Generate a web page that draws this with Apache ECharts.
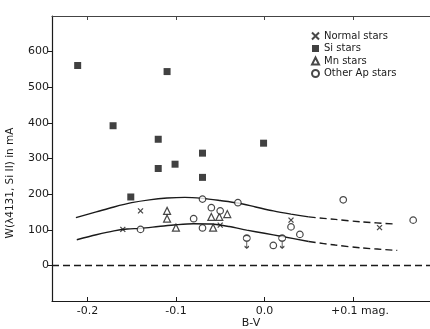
<!DOCTYPE html>
<html>
<head>
<meta charset="utf-8">
<script src="https://cdn.jsdelivr.net/npm/echarts@6/dist/echarts.min.js"></script>
<style>
  html, body { margin: 0; padding: 0; background: #fff; }
  #main { width: 430px; height: 329px; }
</style>
</head>
<body>
<div id="main"></div>
<script>
// tick positions and labels
const xTicks = [-0.2, -0.1, 0, 0.1];
const xTickLabels = ['-0.2', '-0.1', '0.0', '+0.1 mag.'];
const yTicks = [0, 100, 200, 300, 400, 500, 600];

// stars, [B-V, W in mA]
const normalStars = [[-0.140, 153], [-0.160, 101], [-0.050, 113], [0.030, 127], [0.130, 106]];
const siStars = [
  [-0.211, 561], [-0.110, 544], [-0.171, 392], [-0.120, 354], [-0.070, 315],
  [-0.001, 343], [-0.120, 272], [-0.101, 284], [-0.070, 247], [-0.151, 192]
];
const mnStars = [[-0.110, 153], [-0.110, 131], [-0.100, 106], [-0.060, 136], [-0.051, 136], [-0.042, 144], [-0.058, 106]];
const otherApStars = [
  [-0.140, 101], [-0.080, 131], [-0.070, 186], [-0.070, 105], [-0.030, 176], [-0.060, 162],
  [-0.050, 153], [0.010, 56], [0.030, 108], [0.040, 87], [0.089, 184], [0.168, 127]
];
// upper limits (circle with arrow)
const otherApLimits = [[-0.020, 75], [0.020, 75]];

// envelope curves
const upperCurve = [
  [-0.213, 134], [-0.19, 150], [-0.17, 164], [-0.15, 176], [-0.13, 184], [-0.11, 189], [-0.09, 191],
  [-0.07, 188], [-0.05, 182], [-0.03, 175], [-0.01, 164], [0.01, 153], [0.03, 144], [0.05, 136]
];
const upperCurveDashed = [[0.05, 136], [0.08, 129], [0.11, 122], [0.148, 116]];
const lowerCurve = [
  [-0.212, 72], [-0.19, 86], [-0.17, 97], [-0.155, 102], [-0.14, 104], [-0.12, 109], [-0.10, 114],
  [-0.08, 117], [-0.06, 116], [-0.04, 109], [-0.02, 99], [0, 90], [0.02, 81], [0.05, 67]
];
const lowerCurveDashed = [[0.05, 67], [0.08, 57], [0.11, 49], [0.15, 42]];

const ink = '#1a1a1a';
const font = 'DejaVu Sans';
const crossPath = 'path://M0,0L10,10M10,0L0,10';
const limitPath = 'path://M1,5A4,4,0,1,1,9,5A4,4,0,1,1,1,5ZM5,9L5,18M2.5,15.5L5,18L7.5,15.5';

const chart = echarts.init(document.getElementById('main'), null, { renderer: 'canvas' });

const curve = (data, dashed) => ({
  type: 'line',
  data: data,
  smooth: 0.3,
  symbol: 'none',
  silent: true,
  z: 1,
  lineStyle: { color: ink, width: 1.4, type: dashed ? [7, 4] : 'solid' }
});

const option = {
  backgroundColor: '#fff',
  animation: false,
  textStyle: { fontFamily: font },
  grid: { left: 52, right: 0, top: 16, bottom: 28 },
  legend: {
    orient: 'vertical',
    left: 311,
    top: 30,
    padding: 0,
    itemGap: 0.5,
    itemWidth: 7,
    itemHeight: 7,
    data: ['Normal stars', 'Si stars', 'Mn stars', 'Other Ap stars'],
    textStyle: { fontFamily: font, fontSize: 10, color: ink, lineHeight: 12 }
  },
  xAxis: [
    {
      type: 'value', position: 'bottom', min: -0.24, max: 0.187,
      splitLine: { show: false },
      axisLine: { onZero: false, lineStyle: { color: ink, width: 1.2 } },
      axisTick: { inside: true, length: 4, customValues: xTicks, lineStyle: { color: ink } },
      axisLabel: {
        customValues: xTicks, margin: 5, fontSize: 11, color: ink, fontFamily: font,
        formatter: (v) => {
          const i = xTicks.findIndex((t) => Math.abs(t - v) < 1e-9);
          const s = i >= 0 ? xTickLabels[i] : '';
          return i === xTicks.length - 1 ? '{p|}' + s : s;
        },
        rich: { p: { width: 14 } }
      }
    },
    {
      type: 'value', position: 'top', min: -0.24, max: 0.187,
      splitLine: { show: false },
      axisLine: { onZero: false, lineStyle: { color: '#444', width: 1.2 } },
      axisTick: { inside: true, length: 4, customValues: xTicks, lineStyle: { color: '#444' } },
      axisLabel: { show: false }
    }
  ],
  yAxis: {
    type: 'value', min: -100, max: 700,
    splitLine: { show: false },
    axisLine: { onZero: false, lineStyle: { color: ink, width: 1.2 } },
    axisTick: { length: 4, customValues: yTicks, lineStyle: { color: ink } },
    axisLabel: { customValues: yTicks, margin: 3, fontSize: 11, color: ink, fontFamily: font }
  },
  graphic: [
    {
      type: 'text', x: 10, y: 183, rotation: Math.PI / 2,
      style: { text: 'W(λ4131, Si II) in mA', fontFamily: font, fontSize: 10.5, fill: ink, align: 'center', verticalAlign: 'middle' }
    },
    {
      type: 'text', x: 251, y: 318,
      style: { text: 'B-V', fontFamily: font, fontSize: 11, fill: ink, align: 'center', verticalAlign: 'top' }
    }
  ],
  series: [
    Object.assign(curve(upperCurve, false), {
      markLine: {
        silent: true, symbol: 'none', label: { show: false },
        lineStyle: { color: ink, width: 1.3, type: [7, 4] },
        data: [{ yAxis: 0 }]
      }
    }),
    curve(upperCurveDashed, true),
    curve(lowerCurve, false),
    curve(lowerCurveDashed, true),
    {
      name: 'Normal stars', type: 'scatter', data: normalStars, z: 3,
      symbol: crossPath, symbolSize: 5,
      itemStyle: { color: 'rgba(0,0,0,0)', borderColor: ink, borderWidth: 1.3 }
    },
    {
      name: 'Si stars', type: 'scatter', data: siStars, z: 3,
      symbol: 'rect', symbolSize: 7,
      itemStyle: { color: '#111' }
    },
    {
      name: 'Mn stars', type: 'scatter', data: mnStars, z: 3,
      symbol: 'triangle', symbolSize: 7,
      itemStyle: { color: '#fff', borderColor: ink, borderWidth: 1.2 }
    },
    {
      name: 'Other Ap stars', type: 'scatter', data: otherApStars, z: 3,
      symbol: 'circle', symbolSize: 6.5,
      itemStyle: { color: '#fff', borderColor: ink, borderWidth: 1.2 }
    },
    {
      name: 'Other Ap limits', type: 'scatter', data: otherApLimits, z: 3,
      symbol: limitPath, symbolSize: [7, 13], symbolOffset: [0, 3],
      itemStyle: { color: '#fff', borderColor: ink, borderWidth: 1.2 }
    }
  ]
};

chart.setOption(option);
</script>
</body>
</html>
